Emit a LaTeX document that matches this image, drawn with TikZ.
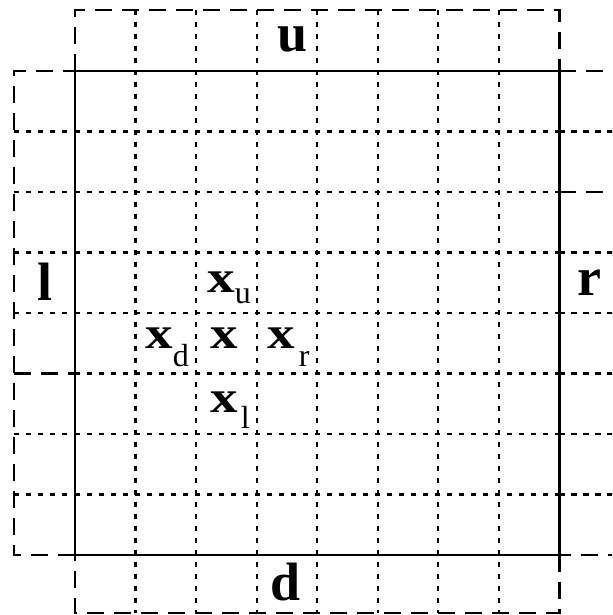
\documentclass[tikz,border=0pt]{standalone}
\usepackage{fontspec}
\setmainfont{Liberation Serif}
\newcommand{\bigfont}{\fontsize{27}{30}\selectfont\bfseries}
\newcommand{\xfont}{\fontsize{25}{28}\selectfont\bfseries}
\newcommand{\subfont}{\fontsize{16}{18}\selectfont\mdseries}
\newcommand{\xx}{{\xfont\scalebox{1.1}[0.9]{x}}}
\begin{document}
\begin{tikzpicture}[x=0.5pt,y=-0.5pt,
  dotline/.style={line width=1.1pt,dash pattern=on 2.6pt off 3.4pt},
  longdash/.style={line width=1.1pt,dash pattern=on 8.5pt off 5pt},
  solidline/.style={line width=1.3pt},
  lab/.style={inner sep=0pt,anchor=base west}]
\useasboundingbox (0,0) rectangle (612,615);
\clip (0,0) rectangle (612,615);
% vertical dotted lines
\foreach \i in {1,...,7}
  \draw[dotline] ({75+60.55*\i},10) -- ({75+60.55*\i},613);
% horizontal dotted lines inside the square
\foreach \j in {1,...,7}
  \draw[dotline] (75,{71+60.5*\j}) -- (559.4,{71+60.5*\j});
% left strip
\foreach \j in {1,2,3,4,6,7}
  \draw[dotline] (14,{71+60.5*\j}) -- (75,{71+60.5*\j});
\draw[longdash] (14,373.5) -- (75,373.5);
% right strip
\foreach \j in {1,3,4,5,6,7}
  \draw[dotline] (559.4,{71+60.5*\j}) -- (620,{71+60.5*\j});
\draw[longdash] (559.4,192) -- (620,192);
% outer long dashed outline
\draw[longdash] (75,71) -- (75,10) -- (559.4,10) -- (559.4,71);
\draw[longdash] (559.4,71) -- (620,71) -- (620,555) -- (559.4,555);
\draw[longdash] (559.4,555) -- (559.4,613) -- (75,613) -- (75,555);
\draw[longdash] (75,555) -- (14,555) -- (14,71) -- (75,71);
% solid square
\draw[solidline] (75,71) rectangle (559.4,555);
% labels
\node[lab] (u) at (277,52) {\bigfont u};
\node[lab] (l) at (37,300) {\bigfont l};
\node[lab] (r) at (577,295) {\bigfont r};
\node[lab] (d) at (270,600) {\bigfont d};
\node[lab] (xu) at (207,292) {\xx\raisebox{-5.5pt}{\subfont u}};
\node[lab] (xd) at (145,348) {\xx\raisebox{-9pt}{\subfont d}};
\node[lab] (x) at (210,348) {\xx};
\node[lab] (xr) at (267,348) {\xx\hspace{2pt}\raisebox{-9pt}{\subfont r}};
\node[lab] (xl) at (210,412) {\xx\hspace{1.5pt}\raisebox{-8pt}{\subfont l}};
\end{tikzpicture}
\end{document}
